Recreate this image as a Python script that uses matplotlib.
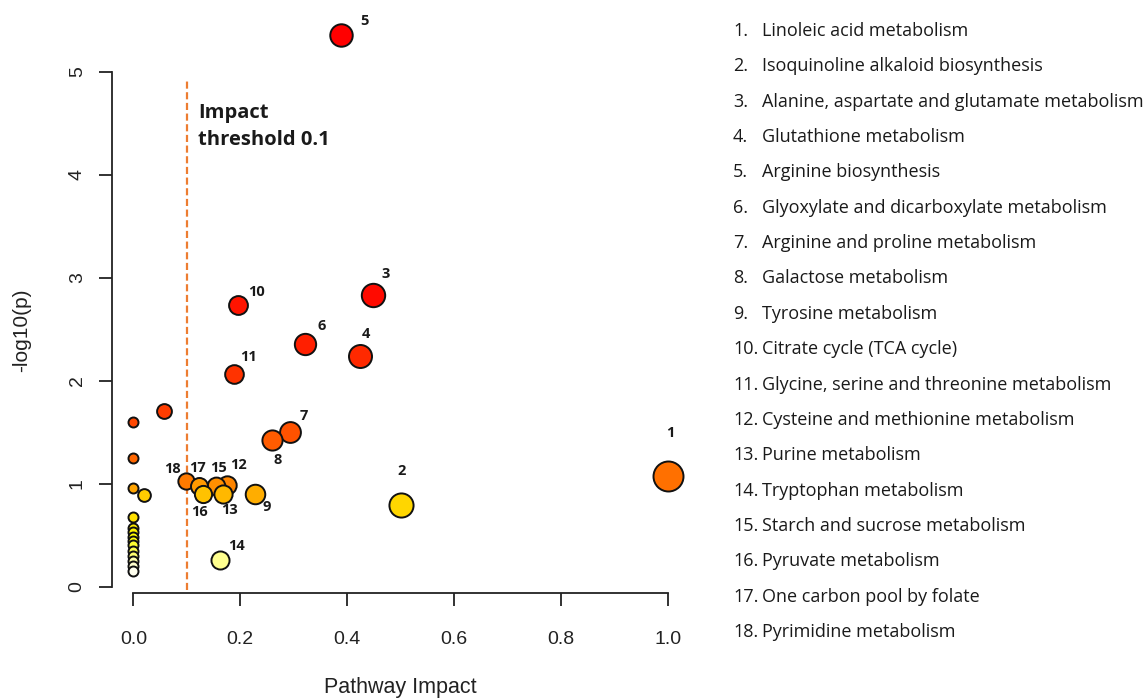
import numpy as np
import matplotlib
matplotlib.use("Agg")
import matplotlib.pyplot as plt
import colorsys

# ---------------- data ----------------
pathway_names = [
    "Linoleic acid metabolism",
    "Isoquinoline alkaloid biosynthesis",
    "Alanine, aspartate and glutamate metabolism",
    "Glutathione metabolism",
    "Arginine biosynthesis",
    "Glyoxylate and dicarboxylate metabolism",
    "Arginine and proline metabolism",
    "Galactose metabolism",
    "Tyrosine metabolism",
    "Citrate cycle (TCA cycle)",
    "Glycine, serine and threonine metabolism",
    "Cysteine and methionine metabolism",
    "Purine metabolism",
    "Tryptophan metabolism",
    "Starch and sucrose metabolism",
    "Pyruvate metabolism",
    "One carbon pool by folate",
    "Pyrimidine metabolism",
]
labeled_impact = [1.0, 0.50, 0.449, 0.424, 0.389, 0.321, 0.293, 0.260, 0.228,
                  0.196, 0.189, 0.176, 0.168, 0.163, 0.155, 0.130, 0.123, 0.099]
labeled_logp = [1.08, 0.80, 2.83, 2.24, 5.36, 2.36, 1.50, 1.43, 0.90,
                2.74, 2.07, 0.99, 0.90, 0.26, 0.98, 0.90, 0.98, 1.03]

other_impact = [0.058, 0.0, 0.0, 0.0, 0.019, 0.0, 0.0, 0.0, 0.0, 0.0,
                0.0, 0.0, 0.0, 0.0, 0.0, 0.0]
other_logp = [1.71, 1.60, 1.25, 0.96, 0.89, 0.68, 0.57, 0.53, 0.49, 0.45,
              0.41, 0.35, 0.30, 0.25, 0.20, 0.16]

threshold = 0.1

# label offsets (pixels) for the numbered points
label_offsets = [(3, 43), (1, 34), (12, 21), (6, 22), (23, 14), (17, 18),
                 (14, 16), (5, -20), (12, -13), (18, 13), (14, 17), (11, 20),
                 (6, -16), (16, 14), (2, 18), (-3, -18), (-2, 18), (-14, 12)]

# ---------------- colours (R heat.colors by rank) ----------------
def heat_colors(n):
    j = n // 4
    i = n - j
    cols = []
    for k in range(i):
        h = (k / (i - 1)) * (1 / 6) if i > 1 else 0
        cols.append(colorsys.hsv_to_rgb(h, 1, 1))
    if j > 0:
        sats = np.linspace(1 - 1 / (2 * j), 1 / (2 * j), j)
        for s in sats:
            cols.append(colorsys.hsv_to_rgb(1 / 6, s, 1))
    return cols

all_x = np.array(labeled_impact + other_impact)
all_y = np.array(labeled_logp + other_logp)
n = len(all_x)
order = np.argsort(-all_y, kind="stable")
cols = heat_colors(n)
colors = [None] * n
for rank, idx in enumerate(order):
    colors[idx] = cols[rank]

# ---------------- figure ----------------
W, H = 1147, 699
fig = plt.figure(figsize=(W / 100, H / 100), dpi=100)
ax = fig.add_axes([112 / W, (H - 593) / H, (689 - 112) / W, (593 - 10) / H])
ax.set_xlim(-0.04, 1.04)
ax.set_ylim(-0.058, 5.6)

# marker size from impact
diam_px = 10 + 20 * np.sqrt(all_x)
sizes = (diam_px * 0.72) ** 2

for rank, idx in enumerate(order):
    ax.scatter(all_x[idx], all_y[idx], s=sizes[idx], color=colors[idx],
               edgecolor="#111111", linewidth=1.4, zorder=3 + rank * 0.01,
               clip_on=False)

ax.plot([threshold, threshold], [-0.03, 4.93], linestyle=(0, (3.2, 1.6)),
        color="#ED7D31", linewidth=1.6, zorder=2)
fig.text(198 / W, 1 - 113 / H, "Impact", fontsize=14.5, fontweight="bold",
         family="Open Sans", va="center", ha="left", color="#1a1a1a")
fig.text(198 / W, 1 - 140 / H, "threshold 0.1", fontsize=14.5, fontweight="bold",
         family="Open Sans", va="center", ha="left", color="#1a1a1a")

for k, (dx, dy) in enumerate(label_offsets):
    ax.annotate(str(k + 1), (labeled_impact[k], labeled_logp[k]),
                xytext=(dx, dy), textcoords="offset pixels",
                ha="center", va="center", fontsize=10.5, fontweight="bold",
                family="Open Sans", color="#1a1a1a", zorder=10,
                annotation_clip=False)

for s in ["top", "right"]:
    ax.spines[s].set_visible(False)
ax.spines["left"].set_bounds(0, 5)
ax.spines["bottom"].set_bounds(0, 1)
for s in ["left", "bottom"]:
    ax.spines[s].set_linewidth(1.3)
    ax.spines[s].set_color("#222222")

ax.set_xticks([0, 0.2, 0.4, 0.6, 0.8, 1.0])
ax.set_xticklabels(["0.0", "0.2", "0.4", "0.6", "0.8", "1.0"])
ax.set_yticks([0, 1, 2, 3, 4, 5])
ax.set_yticklabels(["0", "1", "2", "3", "4", "5"], rotation=90, va="center")
ax.tick_params(axis="both", direction="out", length=9.5, width=1.3,
               color="#222222", labelsize=14, labelcolor="#222222")
ax.tick_params(axis="x", pad=17.5)
ax.tick_params(axis="y", pad=9.4)
for lab in ax.get_xticklabels() + ax.get_yticklabels():
    lab.set_family("Liberation Sans")

ax.set_xlabel("Pathway Impact", fontsize=15.5, family="Liberation Sans",
              color="#222222")
ax.xaxis.set_label_coords(0.5, (593 - 687) / 583)
ax.set_ylabel("-log10(p)", fontsize=15, family="Liberation Sans",
              color="#222222")
ax.yaxis.set_label_coords((22 - 112) / 577, (593 - 330) / 583)
ax.xaxis.label.set_va("center")
ax.yaxis.label.set_va("center")

# pathway list
y0, y1 = 31, 632
for k, name in enumerate(pathway_names):
    ypx = y0 + (y1 - y0) * k / (len(pathway_names) - 1)
    fig.text(733 / W, 1 - ypx / H, f"{k + 1}.", fontsize=13,
             family="Open Sans", va="center", ha="left", color="#1a1a1a")
    fig.text(762 / W, 1 - ypx / H, name, fontsize=13,
             family="Open Sans", va="center", ha="left", color="#1a1a1a")

fig.savefig("out.png", dpi=100, facecolor="white")
